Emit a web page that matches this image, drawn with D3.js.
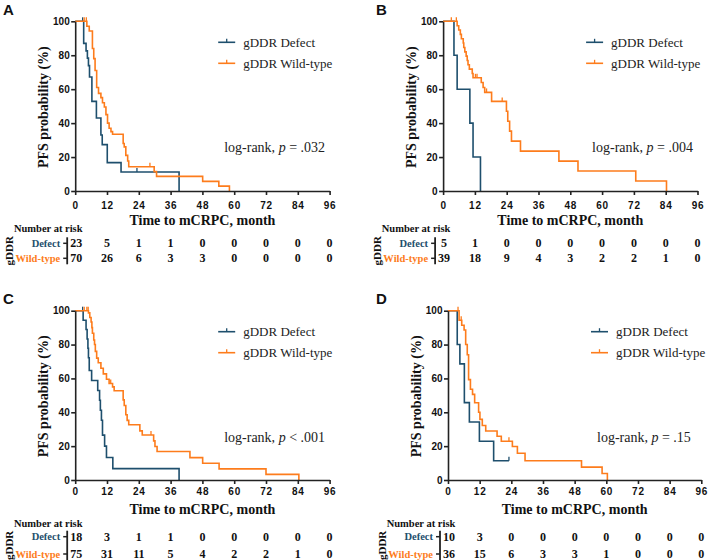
<!DOCTYPE html>
<html><head><meta charset="utf-8">
<script src="https://cdn.jsdelivr.net/npm/d3@7/dist/d3.min.js"></script>
<style>body{margin:0;background:#fff}</style>
</head><body><svg id="c" width="709" height="560"></svg>
<script>
// ---------- data ----------
const timeTicks = [0, 12, 24, 36, 48, 60, 72, 84, 96];
const probTicks = [0, 20, 40, 60, 80, 100];
const seriesNames = ["gDDR Defect", "gDDR Wild-type"];
const rowLabels = ["Defect", "Wild-type"];
const panelLetters = ["A", "B", "C", "D"];
const pTexts = ["= .032", "= .004", "< .001", "= .15"];

// Panel A
const A_defect_t = [3.2, 4.1, 4.6, 5.0, 5.4, 6.3, 8.0, 9.7, 10.2, 12.1, 17.3, 39.2];
const A_defect_s = [87.0, 82.6, 78.3, 73.9, 67.2, 52.8, 43.0, 33.0, 27.3, 16.7, 11.2, 0];
const A_defect_c = [2.8, 23.3];
const A_wild_t = [4.4, 5.3, 6.5, 7.0, 7.5, 8.1, 8.8, 9.7, 10.3, 11.0, 11.6, 12.2, 12.8, 13.5, 14.1, 18.1, 18.5, 19.1, 19.8, 20.2, 29.8, 30.7, 48.1, 54.2, 58.2];
const A_wild_s = [97.1, 94.3, 84.0, 78.0, 71.0, 61.0, 57.5, 55.0, 52.0, 49.5, 45.0, 40.0, 37.0, 35.0, 33.4, 28.0, 26.0, 21.0, 17.7, 14.3, 11.4, 8.6, 5.7, 2.9, 0];
const A_wild_c = [3.4, 4.2, 28.2];
const A_risk_defect = [23, 5, 1, 1, 0, 0, 0, 0, 0];
const A_risk_wild = [70, 26, 6, 3, 3, 0, 0, 0, 0];

// Panel B
const B_defect_t = [4.1, 5.3, 10.1, 11.3, 14.1];
const B_defect_s = [80, 60, 40, 20, 0];
const B_defect_c = [];
const B_wild_t = [5.3, 5.9, 6.5, 6.9, 7.6, 7.8, 8.2, 8.7, 9.1, 9.4, 9.9, 11.0, 11.3, 14.4, 15.1, 15.7, 18.3, 23.9, 24.4, 25.1, 25.8, 29.2, 43.7, 50.9, 72.7, 84.3];
const B_wild_s = [97.4, 94.9, 92.3, 89.7, 87.2, 84.6, 82.0, 79.5, 76.9, 74.4, 71.8, 69.2, 66.7, 63.9, 61.0, 58.1, 52.8, 47.0, 41.1, 35.3, 29.4, 23.5, 17.6, 11.8, 5.9, 0];
const B_wild_c = [3.1, 5.0, 12.2, 12.8, 16.4, 22.3];
const B_risk_defect = [5, 1, 0, 0, 0, 0, 0, 0, 0];
const B_risk_wild = [39, 18, 9, 4, 3, 2, 2, 1, 0];

// Panel C
const C_defect_t = [3.0, 4.1, 4.5, 4.8, 5.0, 5.3, 6.2, 8.5, 9.2, 9.5, 9.9, 10.3, 11.1, 11.8, 14.2, 39.2];
const C_defect_s = [94.4, 88.9, 83.3, 77.8, 72.2, 64.7, 58.8, 52.9, 47.1, 41.2, 35.3, 26.5, 20.0, 13.3, 6.7, 0];
const C_defect_c = [2.8];
const C_wild_t = [5.0, 5.5, 6.0, 6.3, 6.5, 7.0, 7.3, 7.6, 8.1, 8.7, 9.7, 10.6, 11.8, 12.8, 14.1, 14.7, 18.1, 18.5, 19.1, 19.6, 20.2, 24.4, 25.3, 29.6, 30.1, 30.9, 43.3, 48.1, 54.3, 72.0, 84.4];
const C_wild_s = [98.7, 96.0, 93.3, 90.0, 86.7, 82.7, 80.0, 76.0, 72.0, 69.3, 66.0, 62.7, 59.5, 57.0, 55.0, 52.7, 47.3, 44.0, 38.5, 35.2, 32.6, 29.0, 26.6, 23.1, 19.8, 16.8, 13.2, 9.9, 6.6, 3.3, 0];
const C_wild_c = [3.4, 4.4, 4.9, 13.4, 28.6];
const C_risk_defect = [18, 3, 1, 1, 0, 0, 0, 0, 0];
const C_risk_wild = [75, 31, 11, 5, 4, 2, 2, 1, 0];

// Panel D
const D_defect_t = [3.5, 4.5, 6.2, 8.1, 11.9, 17.3];
const D_defect_s = [80.0, 68.6, 45.7, 34.3, 22.9, 11.4];
const D_defect_c = [23.1];
const D_wild_t = [4.2, 5.2, 6.1, 6.7, 7.3, 7.8, 8.5, 9.3, 10.1, 11.6, 12.1, 13.0, 14.3, 18.6, 20.2, 24.4, 26.3, 29.2, 50.6, 58.4, 60.4];
const D_wild_s = [94.4, 91.4, 88.6, 80.0, 74.0, 59.3, 53.6, 50.6, 45.6, 40.0, 35.8, 32.2, 28.9, 25.8, 22.9, 19.8, 15.8, 11.4, 7.6, 3.8, 0];
const D_wild_c = [3.8, 5.0, 23.1];
const D_risk_defect = [10, 3, 0, 0, 0, 0, 0, 0, 0];
const D_risk_wild = [36, 15, 6, 3, 3, 1, 0, 0, 0];

// ---------- styles / layout ----------
const COL = ["#1e4f6d", "#fd7c1c"];
const SERIF = "'Liberation Serif','Times New Roman',serif";
const SANS = "'Liberation Sans',Arial,sans-serif";
const AXC = "#222";

const panels = [
  {t:[A_defect_t, A_wild_t], s:[A_defect_s, A_wild_s], c:[A_defect_c, A_wild_c], r:[A_risk_defect, A_risk_wild],
   x0:75.2, x1:329.6, yTop:21.3, yBot:191, letY:15, tickLab:205, title:220, nar:228.3, rowD:243.3, rowW:258.3},
  {t:[B_defect_t, B_wild_t], s:[B_defect_s, B_wild_s], c:[B_defect_c, B_wild_c], r:[B_risk_defect, B_risk_wild],
   x0:443.1, x1:697.5, yTop:21.3, yBot:191, letY:15, tickLab:205, title:220, nar:228.3, rowD:243.3, rowW:258.3},
  {t:[C_defect_t, C_wild_t], s:[C_defect_s, C_wild_s], c:[C_defect_c, C_wild_c], r:[C_risk_defect, C_risk_wild],
   x0:75.2, x1:329.6, yTop:310.7, yBot:480, letY:304, tickLab:491.7, title:509.3, nar:523.3, rowD:536.7, rowW:554},
  {t:[D_defect_t, D_wild_t], s:[D_defect_s, D_wild_s], c:[D_defect_c, D_wild_c], r:[D_risk_defect, D_risk_wild],
   x0:448, x1:701.3, yTop:310.7, yBot:480, letY:304, tickLab:491.7, title:509.3, nar:523.3, rowD:536.7, rowW:554}
];

const svg = d3.select("#c");

function survAt(ts, ss, time) {
  let v = 100;
  for (let i = 0; i < ts.length; i++) { if (ts[i] <= time) v = ss[i]; }
  return v;
}

panels.forEach((P, pi) => {
  const g = svg.append("g");
  const x = d3.scaleLinear().domain([0, 96]).range([P.x0, P.x1]);
  const y = d3.scaleLinear().domain([0, 100]).range([P.yBot, P.yTop]);

  // panel letter
  g.append("text").attr("x", P.x0 > 300 ? 376 : 3).attr("y", P.letY)
    .attr("font-family", SANS).attr("font-weight", "bold").attr("font-size", 15)
    .attr("fill", "#111").text(panelLetters[pi]);

  // curves
  [0, 1].forEach(k => {
    const ts = P.t[k], ss = P.s[k];
    const pts = [[0, 100]];
    ts.forEach((t, i) => pts.push([t, ss[i]]));
    const last = ss[ss.length - 1];
    if (last > 0) {
      const cmax = d3.max(P.c[k]) || ts[ts.length - 1];
      pts.push([Math.max(cmax, ts[ts.length - 1]), last]);
    }
    const line = d3.line().x(d => x(d[0])).y(d => y(d[1])).curve(d3.curveStepAfter);
    g.append("path").attr("d", line(pts)).attr("fill", "none")
      .attr("stroke", COL[k]).attr("stroke-width", 1.6);
    P.c[k].forEach(ct => {
      const v = survAt(ts, ss, ct);
      g.append("line").attr("x1", x(ct)).attr("x2", x(ct))
        .attr("y1", y(v)).attr("y2", y(v) - 4)
        .attr("stroke", COL[k]).attr("stroke-width", 1.3);
    });
  });

  // axes
  const ax = g.append("g").attr("transform", `translate(0,${P.yBot})`)
    .call(d3.axisBottom(x).tickValues(timeTicks).tickSize(4).tickSizeOuter(0)
      .tickPadding(P.tickLab - 3.6 - P.yBot - 4));
  const ay = g.append("g").attr("transform", `translate(${P.x0},0)`)
    .call(d3.axisLeft(y).tickValues(probTicks).tickSize(4).tickSizeOuter(0).tickPadding(1.5));
  [ax, ay].forEach(a => {
    a.select(".domain").attr("stroke", AXC).attr("stroke-width", 1.6);
    a.selectAll(".tick line").attr("stroke", AXC).attr("stroke-width", 1.6);
    a.selectAll(".tick text").attr("font-family", SANS).attr("font-weight", "bold")
      .attr("font-size", 10).attr("fill", "#111");
  });
  ax.selectAll(".tick text").attr("letter-spacing", 0.8);

  // y label
  g.append("text")
    .attr("transform", `translate(${P.x0 - 32},${(P.yTop + P.yBot) / 2 + 1}) rotate(-90)`)
    .attr("text-anchor", "middle").attr("dominant-baseline", "central")
    .attr("font-family", SERIF).attr("font-weight", "bold").attr("font-size", 14)
    .attr("fill", "#111").text("PFS probability (%)");

  // x title
  g.append("text").attr("x", (P.x0 + P.x1) / 2).attr("y", P.title)
    .attr("text-anchor", "middle").attr("dominant-baseline", "central")
    .attr("font-family", SERIF).attr("font-weight", "bold").attr("font-size", 14)
    .attr("fill", "#111").text("Time to mCRPC, month");

  // legend
  [0, 1].forEach(k => {
    const ly = P.yTop + 21 + k * 21;
    g.append("line").attr("x1", P.x0 + 143).attr("x2", P.x0 + 160)
      .attr("y1", ly).attr("y2", ly).attr("stroke", COL[k]).attr("stroke-width", 1.6);
    g.append("line").attr("x1", P.x0 + 151.5).attr("x2", P.x0 + 151.5)
      .attr("y1", ly).attr("y2", ly - 3.5).attr("stroke", COL[k]).attr("stroke-width", 1.3);
    g.append("text").attr("x", P.x0 + 168).attr("y", ly)
      .attr("dominant-baseline", "central").attr("font-family", SERIF)
      .attr("font-size", 13).attr("fill", "#222").text(seriesNames[k]);
  });

  // log-rank
  const lr = g.append("text").attr("x", P.x0 + 149).attr("y", P.yTop + 126)
    .attr("dominant-baseline", "central").attr("font-family", SERIF)
    .attr("font-size", 14).attr("fill", "#222");
  lr.append("tspan").text("log-rank, ");
  lr.append("tspan").attr("font-style", "italic").text("p");
  lr.append("tspan").text(" " + pTexts[pi]);

  // risk table
  g.append("text").attr("x", P.x0 - 27).attr("y", P.nar)
    .attr("text-anchor", "middle").attr("dominant-baseline", "central")
    .attr("font-family", SERIF).attr("font-weight", "bold").attr("font-size", 10.5)
    .attr("fill", "#111").text("Number at risk");
  g.append("text")
    .attr("transform", `translate(${P.x0 - 66},${(P.rowD + P.rowW) / 2}) rotate(-90)`)
    .attr("text-anchor", "middle").attr("dominant-baseline", "central")
    .attr("font-family", SERIF).attr("font-weight", "bold").attr("font-size", 11)
    .attr("fill", "#111").text("gDDR");
  g.append("line").attr("x1", P.x0 - 8).attr("x2", P.x0 - 8)
    .attr("y1", P.rowD - 6).attr("y2", P.rowW + 6)
    .attr("stroke", AXC).attr("stroke-width", 1.8);
  [P.rowD, P.rowW].forEach((ry, k) => {
    g.append("line").attr("x1", P.x0 - 12).attr("x2", P.x0 - 8)
      .attr("y1", ry).attr("y2", ry).attr("stroke", AXC).attr("stroke-width", 1.5);
    g.append("text").attr("x", P.x0 - 15).attr("y", ry)
      .attr("text-anchor", "end").attr("dominant-baseline", "central")
      .attr("font-family", SERIF).attr("font-weight", "bold").attr("font-size", 10.5)
      .attr("fill", COL[k]).text(rowLabels[k]);
    P.r[k].forEach((n, i) => {
      g.append("text").attr("x", x(timeTicks[i]) + (i === 0 ? 1 : 0)).attr("y", ry)
        .attr("text-anchor", "middle").attr("dominant-baseline", "central")
        .attr("font-family", SERIF).attr("font-weight", "bold").attr("font-size", 12)
        .attr("fill", "#111").text(n);
    });
  });
});
</script></body></html>
